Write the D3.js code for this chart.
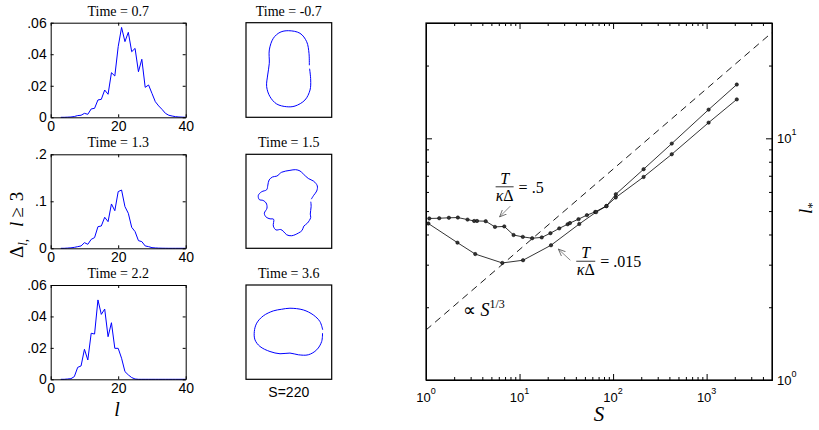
<!DOCTYPE html>
<html>
<head>
<meta charset="utf-8">
<script src="https://cdn.jsdelivr.net/npm/d3@7/dist/d3.min.js"></script>
<style>
  body { margin: 0; background: #fff; }
  .serif { font-family: "Liberation Serif", "Times New Roman", serif; }
  .sans { font-family: "Liberation Sans", Arial, sans-serif; }
</style>
</head>
<body>
<script>
// ---- left column: fluctuation spectra Delta_l, l >= 3 ----
const lVals = [3,4,5,6,7,8,9,10,11,12,13,14,15,16,17,18,19,20,21,22,23,24,25,26,27,28,29,30,31,32,33,34,35,36,37,38,39,40];
const hist07 = [0,0,0.0001,0.0002,0.0005,0.0011,0.0013,0.0025,0.0019,0.0053,0.0057,0.011,0.0114,0.0173,0.0146,0.0283,0.0262,0.0448,0.057,0.048,0.0539,0.0416,0.0437,0.0289,0.0368,0.019,0.0205,0.0152,0.0099,0.0072,0.005,0.0025,0.0013,0.0008,0.0004,0.0002,0.0001,0];
const hist13 = [0,0,0.0005,0.001,0.002,0.0035,0.005,0.012,0.0085,0.019,0.0227,0.046,0.0475,0.066,0.0567,0.0943,0.080,0.1206,0.124,0.0887,0.0745,0.0447,0.0355,0.0163,0.0142,0.005,0.0035,0.0014,0.0008,0.0004,0.0002,0.0001,0,0,0,0,0,0];
const hist22 = [0,0,0.0002,0.0004,0.0017,0.0076,0.0085,0.0191,0.0123,0.0293,0.0288,0.0505,0.0413,0.0447,0.0271,0.036,0.0197,0.0197,0.0134,0.0049,0.0028,0.0011,0.0002,0,0,0,0,0,0,0,0,0,0,0,0,0,0,0];
const histTitles = ["Time = 0.7", "Time = 1.3", "Time = 2.2"];
const histYMax = [0.06, 0.2, 0.06];
const histYTicks = [[0, 0.02, 0.04, 0.06], [0, 0.1, 0.2], [0, 0.02, 0.04, 0.06]];
const histXTicks = [0, 20, 40];

// ---- middle column: membrane outlines (frame units 0..10 x 0..11) ----
const shapeTitles = ["Time = -0.7", "Time = 1.5", "Time = 3.6"];
const shapeEarly = [[7.42,5.35],[7.55,6.67],[7.47,7.83],[6.88,8.99],[5.72,9.69],[4.75,9.77],[3.58,9.45],[2.80,8.60],[2.41,7.44],[2.53,6.08],[2.72,4.72],[2.72,3.17],[3.19,1.81],[3.97,1.12],[4.94,0.93],[6.30,1.23],[7.08,2.21],[7.35,3.56],[7.39,4.95]];
const shapeMid = [[7.56,5.55],[7.60,6.12],[7.50,7.00],[7.55,7.40],[7.16,8.06],[6.75,8.40],[6.55,8.90],[6.11,9.22],[5.33,9.53],[4.75,9.42],[4.35,9.00],[4.05,8.80],[3.50,8.85],[3.19,8.40],[3.22,7.60],[2.80,7.55],[2.35,7.35],[2.14,6.90],[2.45,6.30],[2.35,5.70],[2.00,5.40],[1.55,5.30],[1.44,4.80],[1.83,4.38],[2.41,4.15],[2.55,3.60],[2.70,3.00],[3.10,2.65],[3.60,2.55],[4.16,2.10],[5.13,1.88],[5.80,1.80],[6.30,1.95],[6.69,2.30],[7.27,2.83],[7.90,3.15],[8.32,3.70],[8.25,4.30],[7.90,4.80],[7.62,5.25]];
const shapeLate = [[8.93,5.6],[8.83,6.59],[8.25,7.56],[7.27,8.14],[6.11,8.14],[5.13,7.94],[3.97,8.02],[2.80,7.76],[1.63,7.17],[1.05,6.40],[0.97,5.43],[1.25,4.45],[2.02,3.60],[3.19,3.02],[4.16,2.83],[5.13,2.71],[6.69,2.91],[7.85,3.49],[8.63,4.27],[8.95,5.23]];
const shapeNote = "S=220";

// ---- right: l_* versus S ----
const sHalf = [1.084,1.385,1.757,2.19,2.78,3.27,3.51,4.35,5.46,6.87,8.63,10.84,13.65,17.27,21.4,26.6,32.7,34.6,42.7,52.5,64.4,84.9,106.8,212,424,1050,2101];
const lHalf = [4.66,4.67,4.69,4.70,4.61,4.55,4.55,4.54,4.30,4.32,3.98,3.91,3.86,3.89,4.05,4.24,4.41,4.46,4.63,4.81,4.96,5.25,5.69,6.92,8.59,11.61,14.49];
const sLow = [1.06,2.17,3.36,6.54,10.9,21.7,43.5,65.9,84.9,107,212,424,1050,2101];
const lLow = [4.44,3.70,3.32,3.05,3.13,3.61,4.42,4.95,5.24,5.87,7.45,9.51,13.14,16.69];
const powerLaw = [[1, 1.61], [5000, 27.4]]; // reference line, slope 1/3
const xMajor = [1, 10, 100, 1000];
const yMajor = [1, 10];

const width = 819, height = 430;
const svg = d3.select("body").append("svg")
    .attr("width", width)
    .attr("height", height);

const rows = [{top: 22.7, bottom: 117.3}, {top: 154.3, bottom: 248.3}, {top: 285, bottom: 379.3}];
const histData = [hist07, hist13, hist22];

function fmtFrac(d) {
  if (d === 0) return "0";
  return String(+d.toFixed(2)).replace(/^0/, "");
}

function styleAxis(g, size) {
  g.attr("font-family", "Liberation Sans, Arial, sans-serif").attr("font-size", size);
  g.selectAll("path, line").attr("stroke", "#000");
}

// histograms
histData.forEach(function(vals, i) {
  const r = rows[i];
  const x = d3.scaleLinear().domain([0, 40]).range([50.7, 185.7]);
  const y = d3.scaleLinear().domain([0, histYMax[i]]).range([r.bottom, r.top]);
  const g = svg.append("g");

  g.append("path")
      .datum(vals)
      .attr("fill", "none")
      .attr("stroke", "#0000ff")
      .attr("stroke-width", 1)
      .attr("d", d3.line().x((d, j) => x(lVals[j])).y(d => y(d)));

  g.append("g").attr("transform", "translate(0," + r.bottom + ")")
      .call(d3.axisBottom(x).tickValues(histXTicks).tickSize(-3).tickSizeOuter(0).tickPadding(4))
      .call(styleAxis, 14);
  g.append("g").attr("transform", "translate(0," + r.top + ")")
      .call(d3.axisTop(x).tickValues(histXTicks).tickSize(-3).tickSizeOuter(0).tickFormat(""))
      .call(styleAxis, 14);
  g.append("g").attr("transform", "translate(50.7,0)")
      .call(d3.axisLeft(y).tickValues(histYTicks[i]).tickSize(-3).tickSizeOuter(0).tickPadding(4).tickFormat(fmtFrac))
      .call(styleAxis, 14);
  g.append("g").attr("transform", "translate(185.7,0)")
      .call(d3.axisRight(y).tickValues(histYTicks[i]).tickSize(-3).tickSizeOuter(0).tickFormat(""))
      .call(styleAxis, 14);

  g.append("text").attr("class", "serif")
      .attr("x", 118.2).attr("y", r.top - 7)
      .attr("text-anchor", "middle").attr("font-size", 14)
      .text(histTitles[i]);
});

// x label of histograms
svg.append("text").attr("class", "serif")
    .attr("x", 117).attr("y", 416)
    .attr("text-anchor", "middle").attr("font-size", 20).attr("font-style", "italic")
    .text("l");

// y label  Delta_l,  l >= 3
const yLab = svg.append("text").attr("class", "serif")
    .attr("transform", "translate(23,258) rotate(-90)")
    .attr("font-size", 19);
yLab.append("tspan").text("\u0394");
yLab.append("tspan").attr("font-size", 13).attr("font-style", "italic").attr("dy", 4).text("l");
yLab.append("tspan").attr("font-size", 13).text(",");
yLab.append("tspan").attr("dy", -4).attr("dx", 12).attr("font-style", "italic").text("l");
yLab.append("tspan").attr("dx", 4).text("\u2265");
yLab.append("tspan").attr("dx", 6).text("3");

// outlines
[shapeEarly, shapeMid, shapeLate].forEach(function(pts, i) {
  const r = rows[i];
  const sx = d3.scaleLinear().domain([0, 10]).range([246, 331.7]);
  const sy = d3.scaleLinear().domain([0, 11]).range([r.top, r.bottom]);
  const g = svg.append("g");
  g.append("rect")
      .attr("x", sx(0)).attr("y", sy(0))
      .attr("width", sx(10) - sx(0)).attr("height", sy(11) - sy(0))
      .attr("fill", "none").attr("stroke", "#000").attr("stroke-width", 1.2);
  g.append("path")
      .datum(pts)
      .attr("fill", "none")
      .attr("stroke", "#0000ff")
      .attr("stroke-width", 1)
      .attr("d", d3.line().x(d => sx(d[0])).y(d => sy(d[1])).curve(d3.curveCatmullRom));
  g.append("text").attr("class", "serif")
      .attr("x", 288.8).attr("y", r.top - 7)
      .attr("text-anchor", "middle").attr("font-size", 14)
      .text(shapeTitles[i]);
});
svg.append("text").attr("class", "sans")
    .attr("x", 288.8).attr("y", 397)
    .attr("text-anchor", "middle").attr("font-size", 14)
    .text(shapeNote);

// ---- right log-log plot ----
const xS = d3.scaleLog().domain([1, 5000]).range([426, 772]);
const yL = d3.scaleLog().domain([1, 30]).range([380, 23]);
const xMinor = xS.ticks().filter(d => xMajor.indexOf(d) < 0);
const yMinor = yL.ticks().filter(d => yMajor.indexOf(d) < 0);

const rp = svg.append("g");
rp.append("defs").append("clipPath").attr("id", "clipR")
  .append("rect").attr("x", 426).attr("y", 23).attr("width", 346).attr("height", 357);
const defs = rp.append("defs");
defs.append("marker").attr("id", "arrow")
    .attr("viewBox", "0 0 8 8").attr("refX", 7).attr("refY", 4)
    .attr("markerWidth", 8).attr("markerHeight", 8)
    .attr("markerUnits", "userSpaceOnUse").attr("orient", "auto")
  .append("path").attr("d", "M0,1 L7,4 L0,7").attr("fill", "none").attr("stroke", "#555").attr("stroke-width", 0.8);

function tickAxes(axisFn, scale, vals, size, tr) {
  rp.append("g").attr("transform", tr)
      .call(axisFn(scale).tickValues(vals).tickSize(-size).tickSizeOuter(0).tickFormat(""))
      .call(styleAxis, 11);
}
tickAxes(d3.axisBottom, xS, xMajor, 6, "translate(0,380)");
tickAxes(d3.axisBottom, xS, xMinor, 3, "translate(0,380)");
tickAxes(d3.axisTop, xS, xMajor, 6, "translate(0,23)");
tickAxes(d3.axisTop, xS, xMinor, 3, "translate(0,23)");
tickAxes(d3.axisLeft, yL, yMajor, 6, "translate(426,0)");
tickAxes(d3.axisLeft, yL, yMinor, 3, "translate(426,0)");
tickAxes(d3.axisRight, yL, yMajor, 6, "translate(772,0)");
tickAxes(d3.axisRight, yL, yMinor, 3, "translate(772,0)");
rp.append("rect").attr("x", 426).attr("y", 23).attr("width", 346).attr("height", 357)
    .attr("fill", "none").attr("stroke", "#000").attr("stroke-width", 1.2);

// tick labels 10^k
xMajor.forEach(function(v) {
  const t = rp.append("text").attr("class", "sans")
      .attr("x", xS(v)).attr("y", 401.5).attr("text-anchor", "middle").attr("font-size", 13);
  t.append("tspan").text("10");
  t.append("tspan").attr("font-size", 9).attr("dy", -8).text(Math.round(Math.log10(v)));
});
yMajor.forEach(function(v) {
  const t = rp.append("text").attr("class", "sans")
      .attr("x", 777).attr("y", yL(v) + 5).attr("font-size", 13);
  t.append("tspan").text("10");
  t.append("tspan").attr("font-size", 9).attr("dy", -8).text(Math.round(Math.log10(v)));
});

// axis labels
rp.append("text").attr("class", "serif")
    .attr("x", 599).attr("y", 421).attr("text-anchor", "middle")
    .attr("font-size", 21).attr("font-style", "italic").text("S");
const lStar = rp.append("text").attr("class", "serif")
    .attr("transform", "translate(812,214) rotate(-90)")
    .attr("font-size", 19).attr("font-style", "italic");
lStar.append("tspan").text("l");
lStar.append("tspan").attr("font-size", 13).attr("font-style", "normal").attr("dy", 4).text("*");

// power law guide
rp.append("path")
    .datum(powerLaw)
    .attr("clip-path", "url(#clipR)")
    .attr("fill", "none").attr("stroke", "#000").attr("stroke-width", 0.9)
    .attr("stroke-dasharray", "7,5")
    .attr("d", d3.line().x(d => xS(d[0])).y(d => yL(d[1])));

// data series
[[sHalf, lHalf], [sLow, lLow]].forEach(function(s) {
  const pts = s[0].map((v, j) => [v, s[1][j]]);
  rp.append("path")
      .datum(pts)
      .attr("fill", "none").attr("stroke", "#000").attr("stroke-width", 0.8)
      .attr("d", d3.line().x(d => xS(d[0])).y(d => yL(d[1])));
  rp.selectAll(null)
      .data(pts)
    .enter().append("circle")
      .attr("cx", d => xS(d[0]))
      .attr("cy", d => yL(d[1]))
      .attr("r", 1.7)
      .attr("fill", "#333").attr("stroke", "#000").attr("stroke-width", 0.5);
});

// annotations
function fracLabel(S, l, value, barLen) {
  const px = xS(S), py = yL(l);
  const g = rp.append("g").attr("class", "serif").attr("font-size", 16);
  g.append("text").attr("x", px + barLen / 2).attr("y", py - 3)
      .attr("text-anchor", "middle").attr("font-style", "italic").text("T");
  g.append("line").attr("x1", px).attr("x2", px + barLen).attr("y1", py).attr("y2", py)
      .attr("stroke", "#000").attr("stroke-width", 0.8);
  const den = g.append("text").attr("x", px + barLen / 2).attr("y", py + 14).attr("text-anchor", "middle");
  den.append("tspan").attr("font-style", "italic").text("\u03ba");
  den.append("tspan").text("\u0394");
  g.append("text").attr("x", px + barLen + 5).attr("y", py + 6).text("= " + value);
}
fracLabel(5.55, 6.30, ".5", 18);
fracLabel(40.4, 3.10, ".015", 19);

function arrow(s0, l0, s1, l1) {
  rp.append("line")
      .attr("x1", xS(s0)).attr("y1", yL(l0)).attr("x2", xS(s1)).attr("y2", yL(l1))
      .attr("stroke", "#555").attr("stroke-width", 0.7)
      .attr("marker-end", "url(#arrow)");
}
arrow(7.96, 5.24, 6.12, 4.73);
arrow(34.9, 3.13, 26.0, 3.48);

const pl = rp.append("text").attr("class", "serif")
    .attr("x", xS(2.48)).attr("y", yL(1.84)).attr("font-size", 18);
pl.append("tspan").text("\u221d ");
pl.append("tspan").attr("font-style", "italic").text("S");
pl.append("tspan").attr("font-size", 12).attr("dy", -8).text("1/3");
</script>
</body>
</html>
